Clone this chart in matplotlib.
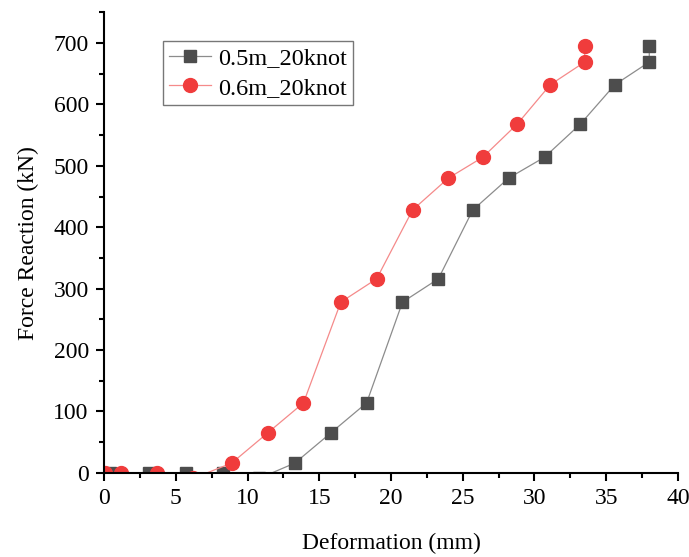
import matplotlib
matplotlib.use("Agg")
import matplotlib.pyplot as plt
from matplotlib.ticker import MultipleLocator

plt.rcParams['font.family'] = ['Liberation Serif', 'DejaVu Serif']
plt.rcParams['mathtext.fontset'] = 'stix'

# data (points below 0 are clipped by the axis)
x_05 = [0.4, 3.1, 5.7, 8.3, 10.8, 13.3, 15.8, 18.3, 20.8, 23.3, 25.7, 28.2, 30.7, 33.2, 35.6, 38.0, 38.0]
y_05 = [0, 0, 0, 0, -9, 16, 65, 114, 278, 316, 428, 480, 514, 568, 632, 669, 695]
x_06 = [0.1, 1.2, 3.7, 6.2, 8.9, 11.4, 13.9, 16.5, 19.0, 21.5, 24.0, 26.4, 28.8, 31.1, 33.5, 33.5]
y_06 = [0, 0, 0, -9, 16, 65, 114, 278, 316, 428, 480, 514, 568, 632, 669, 695]
labels = ['0.5m_20knot', '0.6m_20knot']

fig = plt.figure(figsize=(6.89, 5.57), dpi=100)
ax = fig.add_axes([0.151, 0.151, 0.833, 0.827])

ax.plot(x_05, y_05, color='#8c8c8c', lw=0.9, marker='s', ms=8.5,
        mfc='#4d4d4d', mec='#4d4d4d', label=labels[0], clip_on=True)
ax.plot(x_06, y_06, color='#f58a8a', lw=0.9, marker='o', ms=10,
        mfc='#f03c3c', mec='#f03c3c', label=labels[1], clip_on=True)

ax.set_xlim(0, 40)
ax.set_ylim(0, 750)
ax.xaxis.set_major_locator(MultipleLocator(5))
ax.xaxis.set_minor_locator(MultipleLocator(2.5))
ax.yaxis.set_major_locator(MultipleLocator(100))
ax.yaxis.set_minor_locator(MultipleLocator(50))

for s in ['top', 'right']:
    ax.spines[s].set_visible(False)
for s in ['left', 'bottom']:
    ax.spines[s].set_linewidth(1.5)
ax.tick_params(which='major', direction='out', length=6, width=1.5, labelsize=17, pad=5)
ax.tick_params(which='minor', direction='out', length=3.5, width=1.5)

ax.set_xlabel('Deformation (mm)', fontsize=17, labelpad=17)
ax.set_ylabel('Force Reaction (kN)', fontsize=17, labelpad=10)

leg = ax.legend(loc='upper left', bbox_to_anchor=(0.103, 0.937), fontsize=17.5,
                frameon=True, fancybox=False, edgecolor='#555555',
                borderpad=0.25, handlelength=1.7, labelspacing=0.3, handletextpad=0.3,
                borderaxespad=0.0)
leg.get_frame().set_linewidth(1.0)

fig.savefig('out.png', dpi=100)
